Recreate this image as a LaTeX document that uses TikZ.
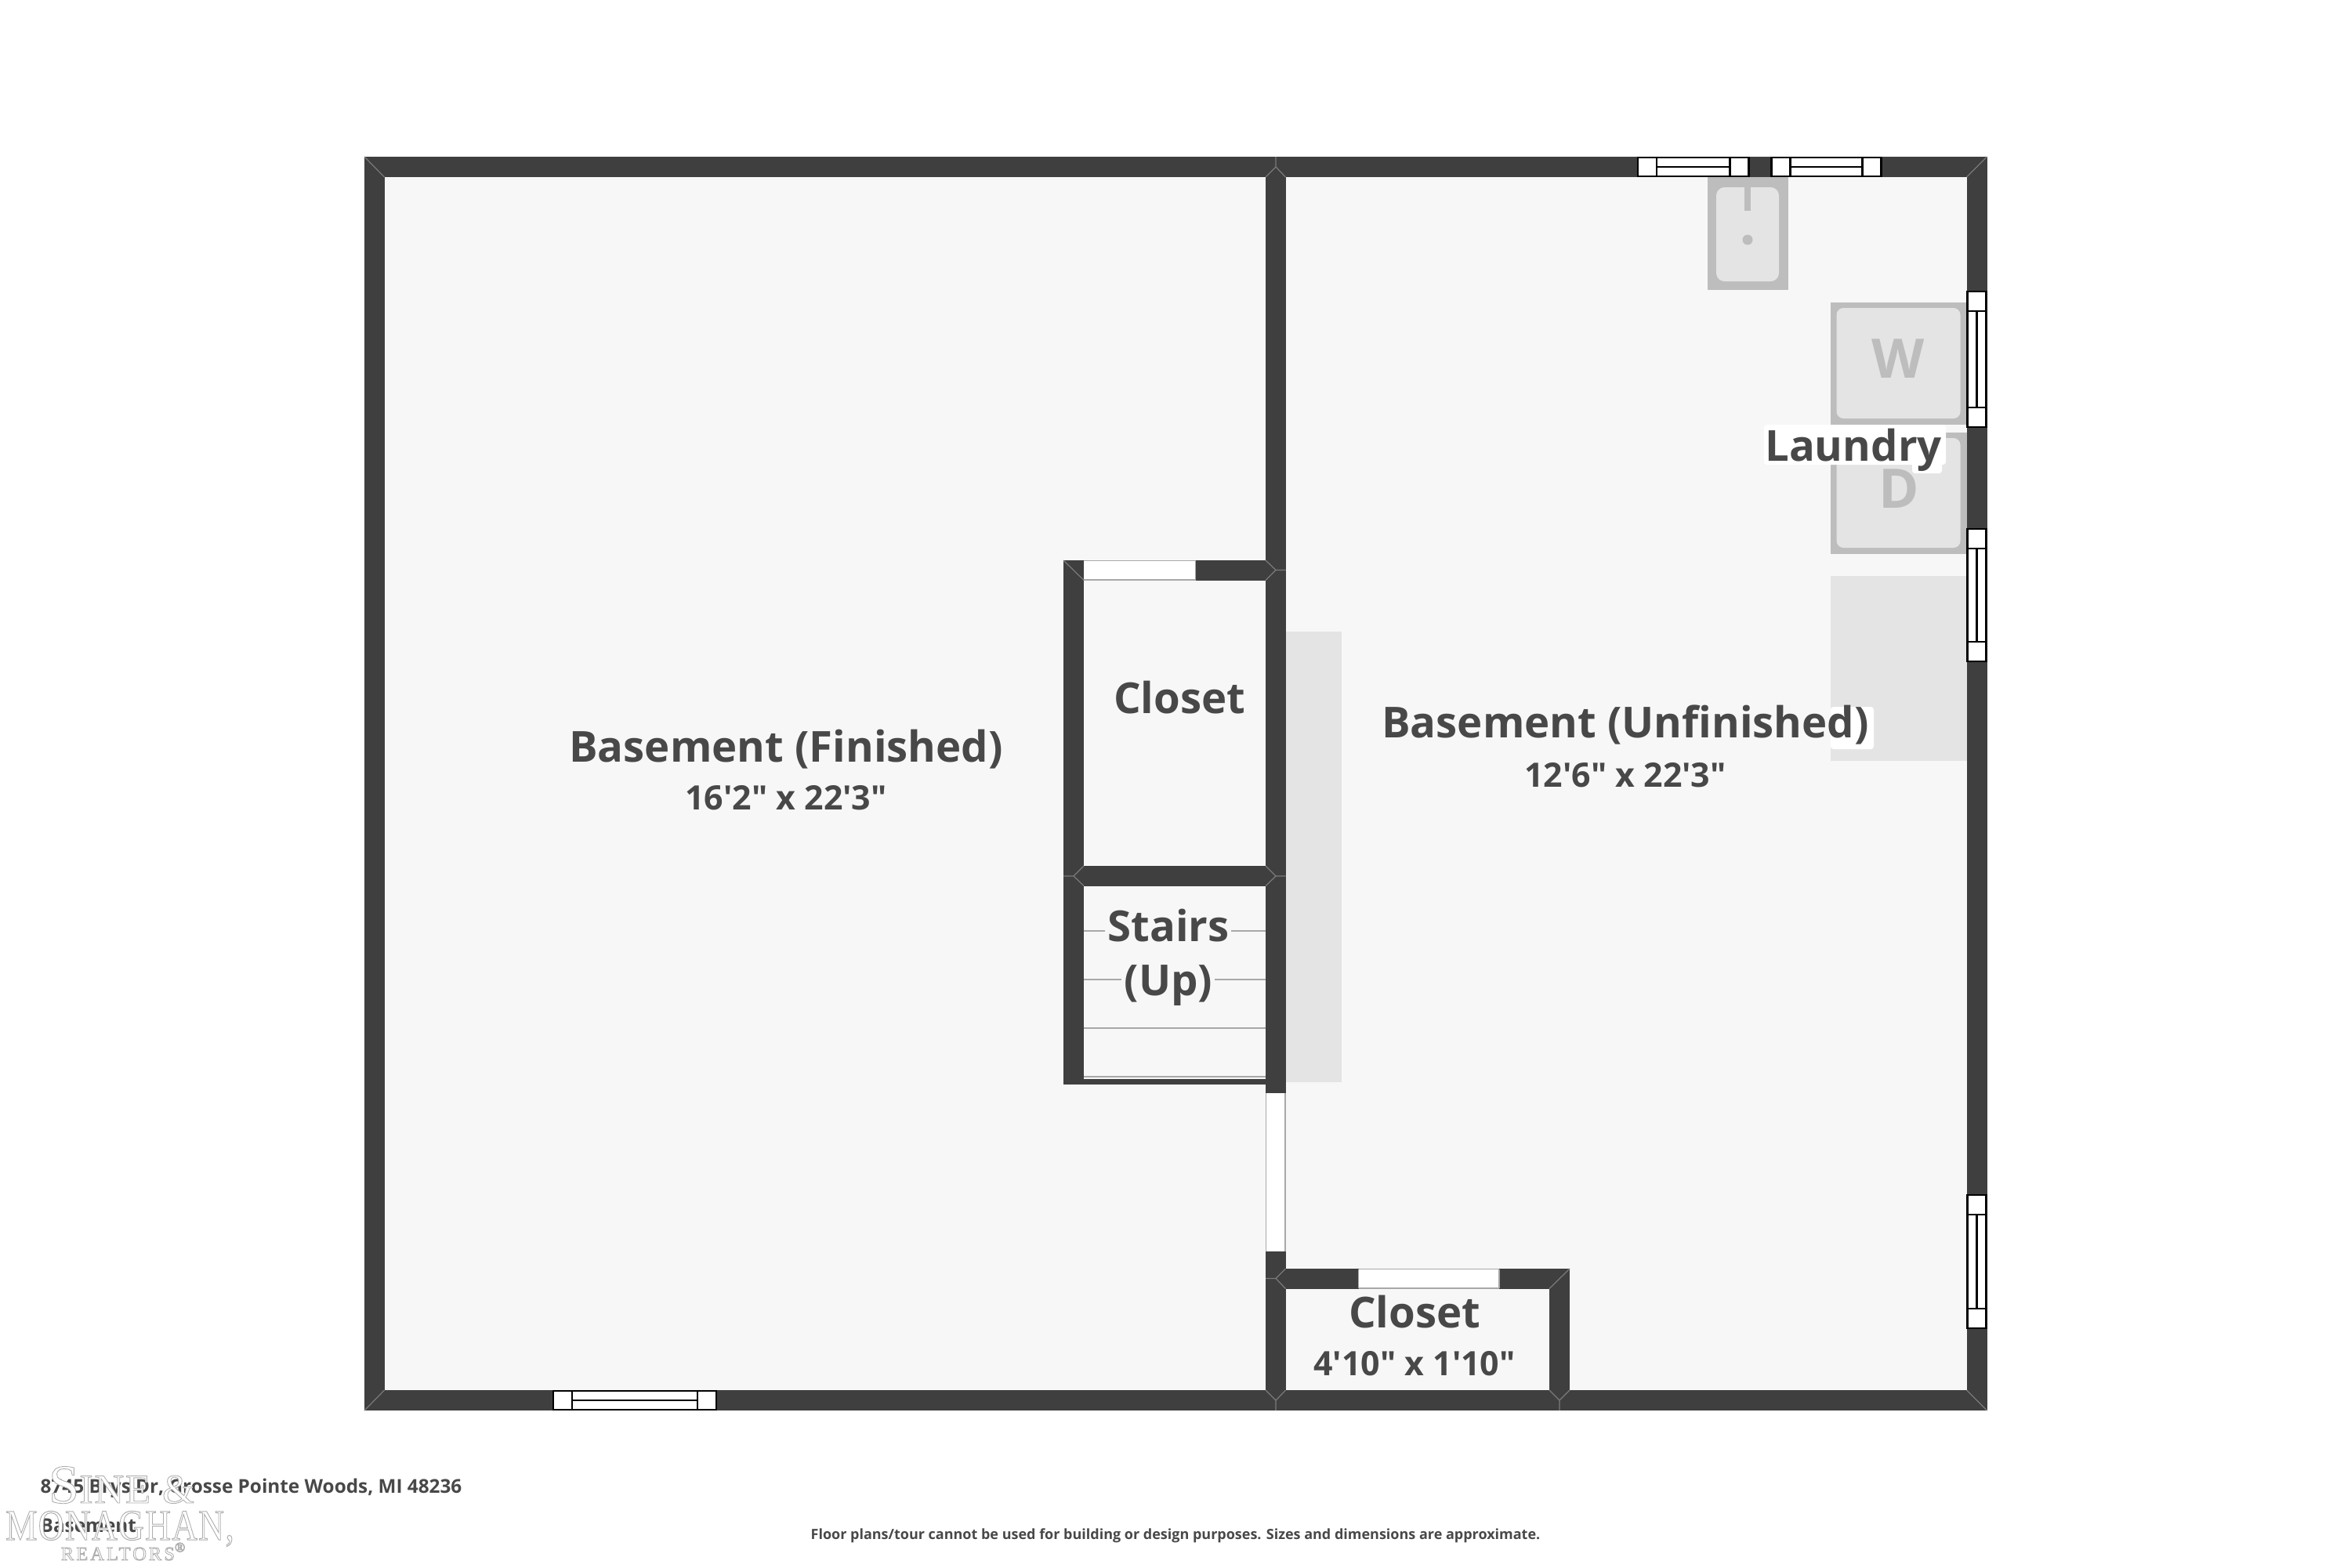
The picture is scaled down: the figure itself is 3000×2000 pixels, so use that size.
\documentclass[tikz,border=0pt]{standalone}
\usepackage{fontspec}
\newfontfamily\labelfont{Open Sans}[BoldFont=* Bold]
\newfontfamily\logofont{Liberation Serif}[LetterSpace=3]
\definecolor{wallc}{HTML}{3F3F3F}
\definecolor{floorc}{HTML}{F7F7F7}
\definecolor{textc}{HTML}{484848}
\definecolor{fixa}{HTML}{BDBDBD}
\definecolor{fixb}{HTML}{E4E4E4}
\definecolor{edgec}{HTML}{7A7A7A}
\definecolor{doorc}{HTML}{A8A8A8}
\newcommand{\logotxt}[1]{\special{pdf:code 2 Tr 0.68 0.68 0.68 RG 0.24 w}#1\special{pdf:code 0 Tr}}
\tikzset{
  wall/.style={fill=wallc,draw=none},
  mitre/.style={draw=edgec,line width=0.35pt},
  door/.style={fill=white,draw=none},
  doorline/.style={draw=doorc,line width=0.45pt},
  wintick/.style={draw=black,line width=0.65pt},
  room/.style={anchor=base,inner sep=0pt,text=textc,font=\labelfont\fontsize{15.5}{15.5}\selectfont\bfseries},
  dims/.style={anchor=base,inner sep=0pt,text=textc,font=\labelfont\fontsize{12.2}{12.2}\selectfont\bfseries},
  foot/.style={anchor=base west,inner sep=0pt,text=textc,font=\labelfont\fontsize{6.92}{6.92}\selectfont\bfseries},
  appliance/.style={anchor=base,inner sep=0pt,text=fixa,font=\labelfont\fontsize{19.8}{19.8}\selectfont\bfseries},
  logo/.style={anchor=base,inner sep=0pt,text=white},
}
\newcommand{\hwin}[3]{% x1, x2, y
  \fill[white] (#1,#3-13) rectangle (#2,#3+13);
  \draw[wintick] (#1,#3-12) rectangle (#2,#3+12);
  \draw[wintick] (#1+24,#3-12) -- (#1+24,#3+12) (#2-24,#3-12) -- (#2-24,#3+12) (#1+24,#3) -- (#2-24,#3);
}
\newcommand{\vwin}[3]{% y1, y2, x
  \fill[white] (#3-13,#1) rectangle (#3+13,#2);
  \draw[wintick] (#3-12,#1) rectangle (#3+12,#2);
  \draw[wintick] (#3-12,#1+25) -- (#3+12,#1+25) (#3-12,#2-25) -- (#3+12,#2-25) (#3,#1+25) -- (#3,#2-25);
}
\begin{document}
\begin{tikzpicture}[x=0.1mm,y=-0.1mm]
  \useasboundingbox (0,0) rectangle (3000,2000);
  \fill[white] (0,0) rectangle (3000,2000);
  \fill[floorc] (465,200) rectangle (2535.5,1800);

  % fixtures
  \fill[fixb] (1640.5,806) rectangle (1712,1381);
  \fill[fixb] (2336,735) rectangle (2509.5,971);
  \fill[fixa] (2178.5,226) rectangle (2282,370);
  \fill[fixb,rounded corners=3pt] (2190,239) rectangle (2270,359);
  \fill[fixa] (2225.5,239) rectangle (2234,269);
  \fill[fixa] (2230,306) circle [radius=6.5];
  \foreach \ya/\yb in {386/542,552/707}{
    \fill[fixa] (2336,\ya) rectangle (2509.5,\yb);
    \fill[fixb,rounded corners=2.5pt] (2343.5,\ya+7) rectangle (2501.5,\yb-8);
  }
  \node [appliance] (washer) at (2422,482) {W};
  \node [appliance] (dryer) at (2423,648) {D};

  % white ground under the labels that cross a fixture
  \fill[white,rounded corners=1pt] (2251,542) rectangle (2483,593);
  \fill[white,rounded corners=1pt] (2440,585) rectangle (2478,604);
  \fill[white,rounded corners=1pt] (2336,902) rectangle (2391,956);

  % stair treads
  \draw[doorline] (1383,1188) -- (1410,1188) (1571,1188) -- (1615,1188);
  \draw[doorline] (1383,1250) -- (1431,1250) (1550,1250) -- (1615,1250);
  \foreach \y in {1312,1374}{
    \draw[doorline] (1383,\y) -- (1615,\y);
  }

  % walls
  \fill[wall] (465,200) rectangle (2535.5,226);
  \fill[wall] (465,1774) rectangle (2535.5,1800);
  \fill[wall] (465,200) rectangle (490.5,1800);
  \fill[wall] (2509.5,200) rectangle (2535.5,1800);
  \fill[wall] (1615,200) rectangle (1640.5,1800);
  \fill[wall] (1357,715) rectangle (1383,1384);
  \fill[wall] (1357,715) rectangle (1640,740.5);
  \fill[wall] (1357,1105) rectangle (1640,1130.5);
  \fill[wall] (1357,1377) rectangle (1615,1384);
  \fill[wall] (1615,1619) rectangle (2003,1644.5);
  \fill[wall] (1977,1619) rectangle (2003,1800);

  % wall joints
  \draw[mitre] (465,200) -- (490.5,226) (2535.5,200) -- (2509.5,226) (2535.5,1800) -- (2509.5,1774) (465,1800) -- (490.5,1774);
  \draw[mitre] (1357,715) -- (1383,740.5) (2003,1619) -- (1977,1644.5);
  \draw[mitre] (1615,715) -- (1628,727.5) -- (1615,740.5) (1628,727.5) -- (1640.5,727.5);
  \draw[mitre] (1383,1105) -- (1370,1118) -- (1383,1130.5) (1370,1118) -- (1357,1118);
  \draw[mitre] (1615,1105) -- (1628,1118) -- (1615,1130.5) (1628,1118) -- (1640.5,1118);
  \draw[mitre] (1640.5,1619) -- (1628,1631.5) -- (1640.5,1644.5) (1628,1631.5) -- (1615,1631.5);
  \draw[mitre] (1615,1774) -- (1628,1787) -- (1640.5,1774) (1628,1787) -- (1628,1800);
  \draw[mitre] (1977,1774) -- (1990,1787) -- (2003,1774) (1990,1787) -- (1990,1800);
  \draw[mitre] (1615,226) -- (1628,213) -- (1640.5,226) (1628,213) -- (1628,200);

  % openings
  \fill[door] (1383,715.5) rectangle (1525.5,740);
  \draw[doorline] (1383,715.5) -- (1525.5,715.5) (1383,740) -- (1525.5,740) (1525.5,715.5) -- (1525.5,740);
  \fill[door] (1615.5,1395) rectangle (1640,1596.5);
  \draw[doorline] (1615.5,1395) -- (1615.5,1596.5) (1640,1395) -- (1640,1596.5);
  \fill[door] (1733.5,1619.5) rectangle (1913,1644);
  \draw[doorline] (1733.5,1619.5) -- (1913,1619.5) (1733.5,1644) -- (1913,1644) (1733.5,1619.5) -- (1733.5,1644) (1913,1619.5) -- (1913,1644);

  % windows
  \hwin{706}{914}{1787}
  \hwin{2090}{2231.5}{213}
  \hwin{2260.5}{2400.5}{213}
  \vwin{372}{545}{2522.5}
  \vwin{675}{844}{2522.5}
  \vwin{1525}{1695}{2522.5}

  % labels
  \node [room] (finished) at (1003,972) {Basement (Finished)};
  \node [dims] (finisheddim) at (1003,1033) {16'2" x 22'3"};
  \node [room] (unfinished) at (2074,941) {Basement (Unfinished)};
  \node [dims] (unfinisheddim) at (2074,1004) {12'6" x 22'3"};
  \node [room] (laundry) at (2365,588) {Laundry};
  \node [room] (closeta) at (1505,910) {Closet};
  \node [room] (stairs) at (1491,1201) {Stairs};
  \node [room] (up) at (1491,1270) {(Up)};
  \node [room] (closetb) at (1805,1694) {Closet};
  \node [dims] (closetbdim) at (1805,1755) {4'10" x 1'10"};

  % footer
  \node [foot] (address) at (51,1905) {8745 Brys Dr, Grosse Pointe Woods, MI 48236};
  \node [foot] (level) at (51,1955) {Basement};
  \node [anchor=base,inner sep=0pt,text=textc,font=\labelfont\fontsize{5.12}{5.12}\selectfont\bfseries] (notice) at (1500,1964) {Floor plans/tour cannot be used for building or design purposes. Sizes and dimensions are approximate.};

  % logo
  \node [logo,font=\logofont\fontsize{15}{15}\selectfont] (logoa) at (155,1918) {\logotxt{{\fontsize{20}{20}\selectfont S}INE \&}};
  \node [logo,font=\logofont\fontsize{12.9}{12.9}\selectfont] (logob) at (153,1965) {\scalebox{1}[1.22]{\logotxt{MONAGHAN,}}};
  \node [logo,font=\logofont\fontsize{7}{7}\selectfont\addfontfeature{LetterSpace=12}] (logoc) at (158,1991) {\logotxt{REALTORS\textsuperscript{®}}};
\end{tikzpicture}
\end{document}
